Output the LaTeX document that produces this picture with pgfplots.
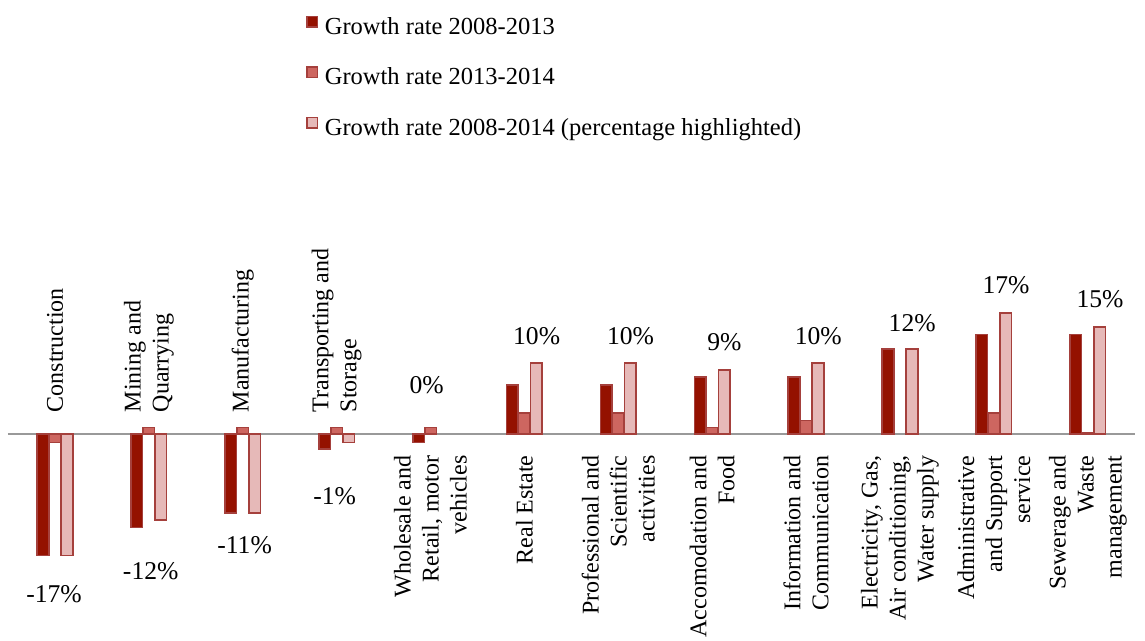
\documentclass[border=0pt]{standalone}
\usepackage{pgfplots}
\pgfplotsset{compat=1.18}
\usepackage{fontspec}
\setmainfont{Liberation Serif}
\definecolor{c1}{HTML}{941100}
\definecolor{c2}{HTML}{CD6660}
\definecolor{c3}{HTML}{E6B9B8}
\definecolor{edge}{HTML}{A5403C}
\definecolor{gridc}{HTML}{D9D9D9}
\definecolor{axc}{HTML}{999999}
\begin{document}
\begin{tikzpicture}
\useasboundingbox (0,0) rectangle (572.5pt,320.5pt);
\begin{axis}[
  at={(4pt,32.5pt)}, anchor=south west,
  scale only axis, width=563.35pt, height=142.15pt,
  xmin=0.5, xmax=12.5, ymin=-20, ymax=20,
  clip=false,
  axis x line*=middle, axis y line=none,
  hide obscured x ticks=false,
  x axis line style={draw=axc, line width=1pt},
  ytick={-20,-10,0,10,20}, yticklabels={}, ymajorgrids,
  grid style={draw=gridc, line width=0.8pt},
  major tick length=0pt,
  xtick={5,6,7,8,9,10,11,12},
  xticklabels={{Wholesale and\\Retail, motor\\vehicles},{Real Estate},{Professional and\\Scientific\\activities},{Accomodation and\\Food},{Information and\\Communication},{Electricity, Gas,\\Air conditioning,\\Water supply},{Administrative\\and Support\\service},{Sewerage and\\Waste\\management}},
  xticklabel style={font=\fontsize{12}{14}\selectfont, rotate=90, anchor=east, align=right, inner sep=0pt, outer xsep=10.8pt},
  extra x ticks={1,2,3,4},
  extra x tick labels={{Construction},{Mining and\\Quarrying},{Manufacturing},{Transporting and\\Storage}},
  extra x tick style={xticklabel style={anchor=west, align=left}},
  legend style={at={(0.2643,1.980)}, anchor=north west, draw=none, fill=none,
    font=\fontsize{12.25}{14}\selectfont, row sep=11.25pt, inner sep=0pt},
  legend cell align=left,
  legend image code/.code={\path[draw=none,fill=none] (0pt,3pt) -- (7pt,3pt);\draw[#1, line width=0.7pt] (0pt,0.3pt) rectangle (5.2pt,5.5pt);},
]
\addplot[ybar, bar width=5.8pt, bar shift=-6pt, fill=c1, draw=edge, line width=0.8pt]
  coordinates {(1,-17.1) (2,-13.2) (3,-11.1) (4,-2.1) (5,-1.2) (6,6.9) (7,6.9) (8,8.0) (9,8.0) (10,11.9) (11,14.0) (12,14.0)};
\addlegendentry{Growth rate 2008-2013}
\addplot[ybar, bar width=5.8pt, bar shift=0pt, fill=c2, draw=edge, line width=0.8pt]
  coordinates {(1,-1.2) (2,0.9) (3,0.9) (4,0.9) (5,0.9) (6,2.9) (7,2.9) (8,0.9) (9,1.9) (11,2.9) (12,0.2)};
\addlegendentry{Growth rate 2013-2014}
\addplot[ybar, bar width=5.8pt, bar shift=6pt, fill=c3, draw=edge, line width=0.8pt]
  coordinates {(1,-17.1) (2,-12.1) (3,-11.1) (4,-1.2) (6,10) (7,10) (8,9) (9,10) (10,11.9) (11,17) (12,15)};
\addlegendentry{Growth rate 2008-2014 (percentage highlighted)}
\addplot[only marks, mark=*, mark size=0pt, draw=none, forget plot,
  point meta=explicit symbolic, nodes near coords,
  every node near coord/.append style={anchor=center, text=black, inner sep=0pt, font=\fontsize{12.8}{15}\selectfont}]
  coordinates {(0.99,-22.5) [-17\%] (2.02,-19.3) [-12\%] (3.02,-15.7) [-11\%] (3.98,-8.7) [-1\%] (4.96,6.8) [0\%] (6.13,13.8) [10\%] (7.13,13.8) [10\%] (8.13,12.9) [9\%] (9.13,13.7) [10\%] (10.13,15.6) [12\%] (11.13,20.9) [17\%] (12.13,18.9) [15\%]};
\end{axis}
\end{tikzpicture}
\end{document}
